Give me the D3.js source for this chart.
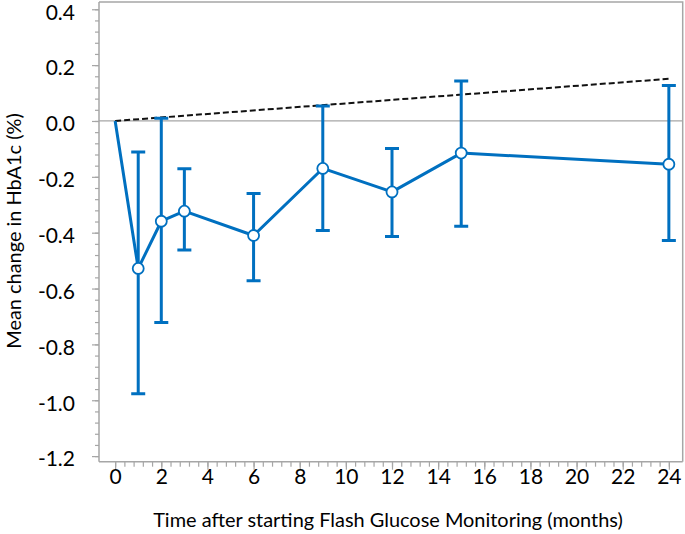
<!DOCTYPE html>
<html>
<head>
<meta charset="utf-8">
<script src="https://cdn.jsdelivr.net/npm/d3@7"></script>
<style>
  html, body { margin: 0; padding: 0; background: #fff; }
  svg { display: block; font-family: Lato, "Open Sans", sans-serif; }
</style>
</head>
<body>
<svg id="chart" width="685" height="534"></svg>
<script>
// ---- data ----
const months   = [1, 2, 3, 6, 9, 12, 15, 24];
const means    = [-0.528, -0.359, -0.323, -0.410, -0.170, -0.254, -0.115, -0.155];
const lowerCI  = [-0.977, -0.722, -0.462, -0.572, -0.392, -0.414, -0.377, -0.428];
const upperCI  = [-0.111,  0.010, -0.171, -0.260,  0.054, -0.099,  0.143,  0.127];
const startMonth = 0, startMean = 0;
const refMonths = [0, 24];
const refValues = [0, 0.151];
const xTickValues = [0, 2, 4, 6, 8, 10, 12, 14, 16, 18, 20, 22, 24];
const yTickValues = [-1.2, -1.0, -0.8, -0.6, -0.4, -0.2, 0.0, 0.2, 0.4];
const xTitle = "Time after starting Flash Glucose Monitoring (months)";
const yTitle = "Mean change in HbA1c (%)";

// ---- layout ----
const svg = d3.select("#chart");
const L = 99, R = 682.7, T = 2, B = 461.7;
const x = d3.scaleLinear().domain([-0.7, 24.6]).range([L, R]);
const y = d3.scaleLinear().domain([-1.22, 0.426]).range([B, T]);
const gray = "#a6a6a6", blue = "#0070c0";

// frame (top and right)
svg.append("path")
  .attr("d", `M${L},${T}H${R}V${B}`)
  .attr("fill", "none").attr("stroke", gray).attr("stroke-width", 1.5);

// zero line
svg.append("line")
  .attr("x1", L).attr("x2", R).attr("y1", y(0)).attr("y2", y(0))
  .attr("stroke", gray).attr("stroke-width", 1.2);

// minor ticks
const yMinor = d3.range(0, 41).map(i => -1.2 + i * 0.04);
const xMinor = d3.range(0, 61).map(i => i * 0.4);
svg.append("g").attr("transform", `translate(${L},0)`)
  .call(d3.axisLeft(y).tickValues(yMinor).tickSize(4).tickSizeOuter(0).tickFormat(""))
  .call(g => g.select(".domain").remove())
  .call(g => g.selectAll("line").attr("stroke", gray).attr("stroke-width", 1.2));
svg.append("g").attr("transform", `translate(0,${B})`)
  .call(d3.axisBottom(x).tickValues(xMinor).tickSize(5).tickSizeOuter(0).tickFormat(""))
  .call(g => g.select(".domain").remove())
  .call(g => g.selectAll("line").attr("stroke", gray).attr("stroke-width", 1.2));

// major axes
const fmtY = v => (Math.abs(v) < 1e-9 ? 0 : v).toFixed(1);
svg.append("g").attr("transform", `translate(${L},0)`)
  .call(d3.axisLeft(y).tickValues(yTickValues).tickSize(7).tickSizeOuter(0).tickPadding(17).tickFormat(fmtY))
  .call(g => g.select(".domain").attr("stroke", gray).attr("stroke-width", 1.5).attr("d", `M0,${T}V${B}`))
  .call(g => g.selectAll("line").attr("stroke", gray).attr("stroke-width", 1.2))
  .call(g => g.selectAll("text").attr("font-size", 21).attr("fill", "#000").attr("dy", "0.47em")
              .attr("font-family", "Lato, sans-serif"));
svg.append("g").attr("transform", `translate(0,${B})`)
  .call(d3.axisBottom(x).tickValues(xTickValues).tickSize(8).tickSizeOuter(0).tickPadding(-0.5).tickFormat(d3.format("d")))
  .call(g => g.select(".domain").attr("stroke", gray).attr("stroke-width", 1.5).attr("d", `M${L},0H${R}`))
  .call(g => g.selectAll("line").attr("stroke", gray).attr("stroke-width", 1.2))
  .call(g => g.selectAll("text").attr("font-size", 21).attr("fill", "#000")
              .attr("font-family", "Lato, sans-serif"));

// axis titles (x title fitted to the reference width; y title uses the same size)
const xt = svg.append("text")
  .attr("x", 388).attr("y", 527)
  .attr("text-anchor", "middle").attr("fill", "#000").attr("font-size", 18)
  .text(xTitle);
const xLen = xt.node().getComputedTextLength();
const titleSize = xLen > 0 ? 18 * 470 / xLen : 20;
xt.attr("font-size", titleSize);
svg.append("text")
  .attr("transform", `translate(21,231) rotate(-90)`)
  .attr("text-anchor", "middle").attr("fill", "#000").attr("font-size", titleSize)
  .text(yTitle);

// reference dashed line
svg.append("path")
  .datum(refMonths.map((m, i) => [m, refValues[i]]))
  .attr("d", d3.line().x(d => x(d[0])).y(d => y(d[1])))
  .attr("fill", "none").attr("stroke", "#111").attr("stroke-width", 2)
  .attr("stroke-dasharray", "6,3");

// error bars
const pts = months.map((m, i) => ({m, mean: means[i], lo: lowerCI[i], hi: upperCI[i]}));
const eb = svg.append("g").attr("stroke", blue).attr("stroke-width", 3).attr("fill", "none");
eb.selectAll("path").data(pts).join("path")
  .attr("d", d => {
    const cx = x(d.m), w = 7;
    return `M${cx},${y(d.lo)}V${y(d.hi)}M${cx - w},${y(d.hi)}H${cx + w}M${cx - w},${y(d.lo)}H${cx + w}`;
  });

// mean line
const lineData = [[startMonth, startMean]].concat(pts.map(d => [d.m, d.mean]));
svg.append("path")
  .datum(lineData)
  .attr("d", d3.line().x(d => x(d[0])).y(d => y(d[1])))
  .attr("fill", "none").attr("stroke", blue).attr("stroke-width", 3)
  .attr("stroke-linejoin", "round");

// markers
svg.append("g").selectAll("circle").data(pts).join("circle")
  .attr("cx", d => x(d.m)).attr("cy", d => y(d.mean)).attr("r", 5.5)
  .attr("fill", "#fff").attr("stroke", blue).attr("stroke-width", 1.8);
</script>
</body>
</html>
